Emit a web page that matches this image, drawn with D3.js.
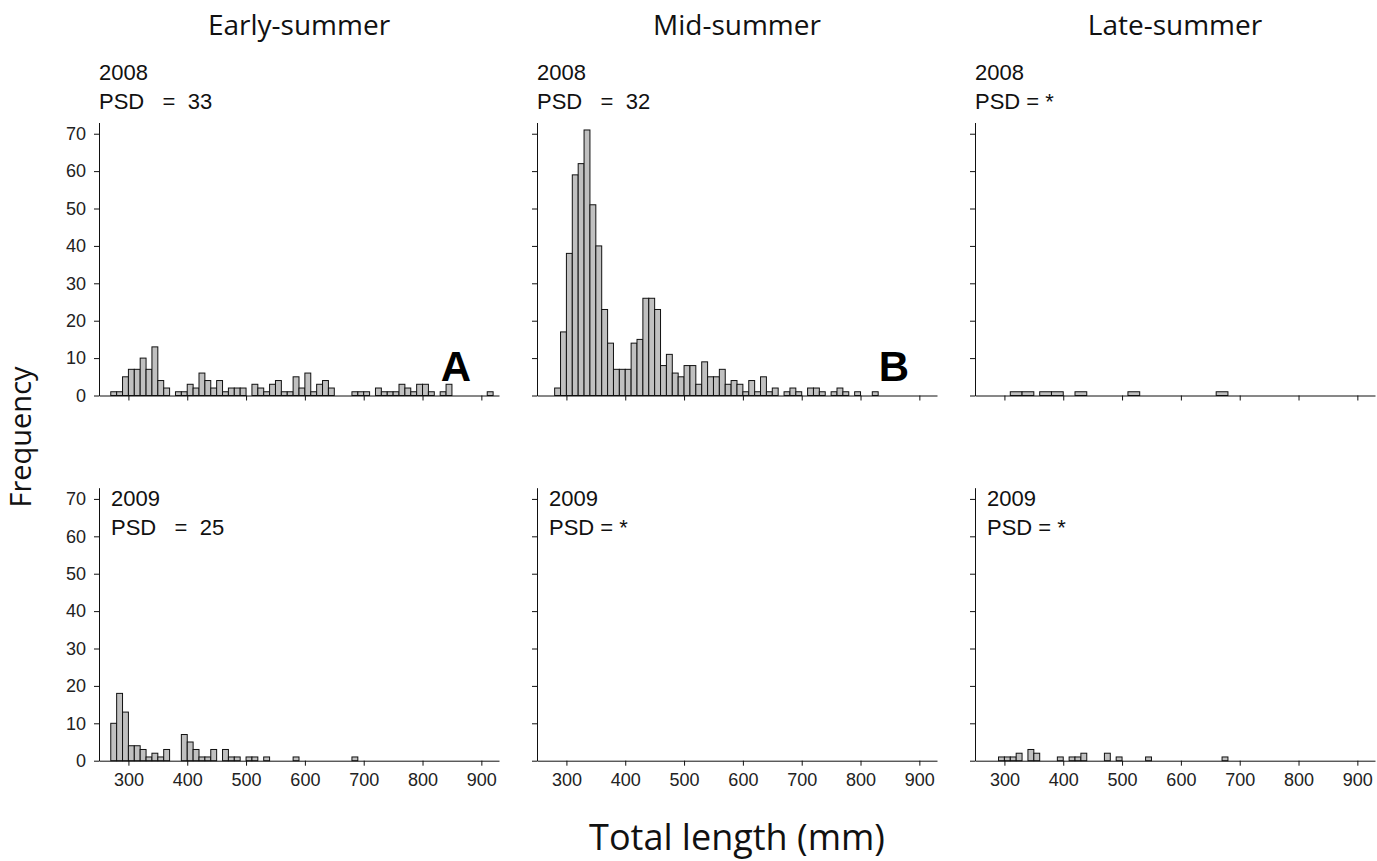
<!DOCTYPE html>
<html>
<head>
<meta charset="utf-8">
<script src="https://cdn.jsdelivr.net/npm/d3@7"></script>
<style>
  body { margin: 0; background: #fff; }
  svg { display: block; }
</style>
</head>
<body>
<svg id="chart" width="1377" height="861"></svg>
<script>
// ---- labels ----
const seasons = ["Early-summer", "Mid-summer", "Late-summer"];
const years = ["2008", "2009"];
const psdText = [
  ["PSD   =  33", "PSD   =  32", "PSD = *"],
  ["PSD   =  25", "PSD = *", "PSD = *"]
];
const panelLetters = [["A", "B", ""], ["", "", ""]];
const lengthTicks = [300, 400, 500, 600, 700, 800, 900];
const freqTicks = [0, 10, 20, 30, 40, 50, 60, 70];

// ---- length-frequency data (counts per bin, total length in mm) ----
// Early-summer 2008: consecutive 10-mm bins starting at 270 mm
const early2008Start = 270;
const early2008Counts = [1, 1, 5, 7, 7, 10, 7, 13, 4, 2,
  0, 1, 1, 3, 2, 6, 4, 2, 4, 1,
  2, 2, 2, 0, 3, 2, 1, 3, 4, 1,
  1, 5, 2, 6, 1, 3, 4, 2, 0, 0,
  0, 1, 1, 1, 0, 2, 1, 1, 1, 3,
  2, 1, 3, 3, 1, 0, 1, 3, 0, 0,
  0, 0, 0, 0, 1];
// Mid-summer 2008: consecutive 10-mm bins starting at 280 mm
const mid2008Start = 280;
const mid2008Counts = [2, 17, 38, 59, 62, 71, 51, 40, 23, 14,
  7, 7, 7, 14, 15, 26, 26, 23, 8, 11,
  6, 5, 8, 8, 3, 9, 5, 5, 7, 3,
  4, 3, 1, 4, 1, 5, 1, 2, 0, 1,
  2, 1, 0, 2, 2, 1, 0, 1, 2, 1,
  0, 1, 0, 0, 1];
// Late-summer 2008: 20-mm bins
const late2008Starts = [310, 330, 360, 380, 420, 510, 660];
const late2008Counts = [1, 1, 1, 1, 1, 1, 1];
// Early-summer 2009: consecutive 10-mm bins starting at 270 mm
const early2009Start = 270;
const early2009Counts = [10, 18, 13, 4, 4, 3, 1, 2, 1, 3,
  0, 0, 7, 5, 3, 1, 1, 3, 0, 3,
  1, 1, 0, 1, 1, 0, 1, 0, 0, 0,
  0, 1, 0, 0, 0, 0, 0, 0, 0, 0,
  0, 1];
// Mid-summer 2009: no fish sampled
const mid2009Starts = [];
const mid2009Counts = [];
// Late-summer 2009: 10-mm bins
const late2009Starts = [290, 300, 310, 320, 340, 350, 390, 410, 420, 430, 470, 490, 540, 670];
const late2009Counts = [1, 1, 1, 2, 3, 2, 1, 1, 1, 2, 2, 1, 1, 1];

// ---- bin builders ----
function runBins(start, counts, w) {
  return counts.map((n, i) => ({ x0: start + i * w, x1: start + (i + 1) * w, n }))
    .filter(d => d.n > 0);
}
function listBins(starts, counts, w) {
  return starts.map((s, i) => ({ x0: s, x1: s + w, n: counts[i] }));
}

const panels = [
  [runBins(early2008Start, early2008Counts, 10),
   runBins(mid2008Start, mid2008Counts, 10),
   listBins(late2008Starts, late2008Counts, 20)],
  [runBins(early2009Start, early2009Counts, 10),
   listBins(mid2009Starts, mid2009Counts, 10),
   listBins(late2009Starts, late2009Counts, 10)]
];

// ---- layout ----
const colLeft = [99, 537, 975];
const rowBase = [395.5, 760.7];
const plotW = 400, plotH = 273;

const x = d3.scaleLinear().domain([250, 930]).range([0, plotW]);
const y = d3.scaleLinear().domain([0, 73]).range([plotH, 0]);

const svg = d3.select("#chart");
const bodyFont = "Arial, 'Liberation Sans', sans-serif";
const titleFont = "'Open Sans', 'Noto Sans', sans-serif";

panels.forEach((row, r) => {
  row.forEach((bins, c) => {
    const g = svg.append("g")
      .attr("transform", `translate(${colLeft[c]},${rowBase[r] - plotH})`);

    // bars
    g.selectAll("rect.bar").data(bins).join("rect")
      .attr("class", "bar")
      .attr("x", d => x(d.x0))
      .attr("width", d => x(d.x1) - x(d.x0))
      .attr("y", d => y(d.n))
      .attr("height", d => y(0) - y(d.n))
      .attr("fill", "#c0c0c0")
      .attr("stroke", "#111")
      .attr("stroke-width", 1);

    // y axis
    const yAxis = d3.axisLeft(y).tickValues(freqTicks).tickSize(5).tickSizeOuter(0).tickPadding(8);
    if (c > 0) yAxis.tickFormat("");
    const ya = g.append("g").call(yAxis);

    // x axis
    const xAxis = d3.axisBottom(x).tickValues(lengthTicks).tickSize(5).tickSizeOuter(0).tickPadding(8);
    if (r === 0) xAxis.tickFormat("");
    const xa = g.append("g").attr("transform", `translate(0,${plotH})`).call(xAxis);

    [ya, xa].forEach(a => {
      a.select(".domain").attr("stroke", "#111");
      a.selectAll(".tick line").attr("stroke", "#111");
      a.selectAll(".tick text")
        .attr("font-family", bodyFont)
        .attr("font-size", 18)
        .attr("fill", "#222");
    });

    // year and PSD labels
    const lx = r === 0 ? 0 : 12;
    const yearY = r === 0 ? 80 - (rowBase[r] - plotH) : 506 - (rowBase[r] - plotH);
    g.append("text")
      .attr("x", lx).attr("y", yearY)
      .attr("font-family", bodyFont).attr("font-size", 22).attr("fill", "#111")
      .text(years[r]);
    g.append("text")
      .attr("x", lx).attr("y", yearY + 29)
      .style("white-space", "pre")
      .attr("font-family", bodyFont).attr("font-size", 22).attr("fill", "#111")
      .text(psdText[r][c]);

    // panel letter
    if (panelLetters[r][c]) {
      g.append("text")
        .attr("x", 372).attr("y", y(0) - 15)
        .attr("text-anchor", "end")
        .attr("font-family", bodyFont).attr("font-size", 42).attr("font-weight", "bold")
        .attr("fill", "#000")
        .text(panelLetters[r][c]);
    }
  });
});

// season titles
seasons.forEach((s, c) => {
  svg.append("text")
    .attr("x", colLeft[c] + plotW / 2).attr("y", 35)
    .attr("text-anchor", "middle")
    .attr("font-family", titleFont).attr("font-size", 28).attr("fill", "#111")
    .text(s);
});

// axis titles
svg.append("text")
  .attr("transform", "translate(31,437) rotate(-90)")
  .attr("text-anchor", "middle")
  .attr("font-family", titleFont).attr("font-size", 29).attr("fill", "#111")
  .text("Frequency");

svg.append("text")
  .attr("x", 737).attr("y", 850)
  .attr("text-anchor", "middle")
  .attr("font-family", titleFont).attr("font-size", 36).attr("fill", "#111")
  .text("Total length (mm)");
</script>
</body>
</html>
